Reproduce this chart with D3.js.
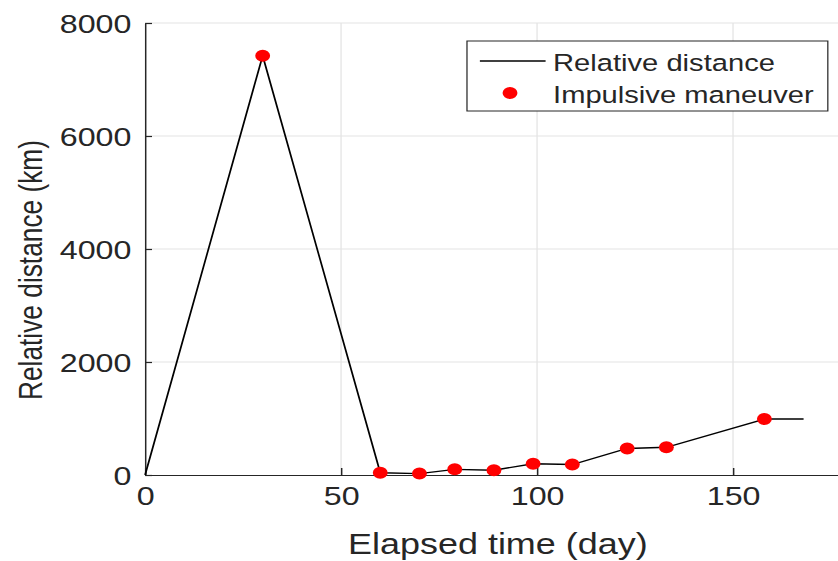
<!DOCTYPE html>
<html>
<head>
<meta charset="utf-8">
<script src="https://cdn.jsdelivr.net/npm/d3@7"></script>
<style>
  html, body { margin: 0; padding: 0; background: #fff; }
  svg { display: block; }
  text { font-family: "Liberation Sans", Arial, Helvetica, sans-serif; fill: #262626; }
</style>
</head>
<body>
<svg id="chart"></svg>
<script>
// ---- data ----
const lineDays = [0, 30, 60, 70, 79, 89, 99, 109, 123, 133, 158, 168];
const lineDist = [0, 7420, 40, 25, 100, 85, 200, 185, 470, 490, 990, 990];
const maneuverDays = [30, 60, 70, 79, 89, 99, 109, 123, 133, 158];
const maneuverDist = [7420, 40, 25, 100, 85, 200, 185, 470, 490, 990];
const xTicks = [0, 50, 100, 150];
const yTicks = [0, 2000, 4000, 6000, 8000];
const xLabel = "Elapsed time (day)";
const yLabel = "Relative distance (km)";
const legendLabels = ["Relative distance", "Impulsive maneuver"];

// ---- layout: plot drawn in internal coords, stretched horizontally by SX ----
const W = 838, H = 561, SX = 1.24;
const m = { left: 117, top: 23, bottom: 86 };
const plotH = H - m.top - m.bottom;

const root = d3.select("#chart").attr("width", W).attr("height", H);
const svg = root.append("g").attr("transform", `scale(${SX},1)`);

const x = d3.scaleLinear().domain([0, 180]).range([m.left, m.left + 3.161 * 180]);
const y = d3.scaleLinear().domain([0, 8000]).range([m.top + plotH, m.top]);

const axisColor = "#262626";
const gridColor = "#e3e3e3";

// grid
const g = svg.append("g");
g.selectAll(".gx").data(xTicks.filter(d => d > 0)).join("line")
  .attr("x1", d => x(d)).attr("x2", d => x(d))
  .attr("y1", y(0)).attr("y2", y(8000))
  .attr("stroke", gridColor).attr("stroke-width", 1);
g.selectAll(".gy").data(yTicks.filter(d => d > 0)).join("line")
  .attr("x1", x(0)).attr("x2", x(180))
  .attr("y1", d => y(d)).attr("y2", d => y(d))
  .attr("stroke", gridColor).attr("stroke-width", 1);

// axes
const xAxis = d3.axisBottom(x).tickValues(xTicks).tickFormat(d3.format("d")).tickSizeInner(-7).tickSizeOuter(0).tickPadding(12);
const yAxis = d3.axisLeft(y).tickValues(yTicks).tickFormat(d3.format("d")).tickSizeInner(-5.6).tickSizeOuter(0).tickPadding(11);

const gx = svg.append("g").attr("transform", `translate(0,${y(0)})`).call(xAxis);
const gy = svg.append("g").attr("transform", `translate(${x(0)},0)`).call(yAxis);
[gx, gy].forEach(a => {
  a.select(".domain").attr("stroke", axisColor).attr("stroke-width", 1.2);
  a.selectAll(".tick line").attr("stroke", axisColor).attr("stroke-width", 1.2);
  a.selectAll(".tick text").attr("fill", axisColor)
    .style("font-family", '"Liberation Sans", Arial, sans-serif')
    .style("font-size", "26px");
});
gx.selectAll(".tick text").attr("dy", "0.71em");
gy.selectAll(".tick text").attr("dy", "0.36em");

// line
const pts = lineDays.map((d, i) => [d, lineDist[i]]);
svg.append("path")
  .datum(pts)
  .attr("fill", "none")
  .attr("stroke", "#000")
  .attr("stroke-width", 1.4)
  .attr("d", d3.line().x(d => x(d[0])).y(d => y(d[1])));

// markers
svg.selectAll(".mk").data(maneuverDays.map((d, i) => [d, maneuverDist[i]])).join("circle")
  .attr("cx", d => x(d[0])).attr("cy", d => y(d[1]))
  .attr("r", 6).attr("fill", "#ff0000");

// x axis label
svg.append("text")
  .attr("x", x(90)).attr("y", 554)
  .attr("text-anchor", "middle")
  .style("font-size", "29px")
  .text(xLabel);

// y axis label (uniform coords; glyphs condensed along the text to mimic stretch)
root.append("text")
  .attr("transform", `translate(42,270) rotate(-90)`)
  .attr("text-anchor", "middle")
  .attr("textLength", 260)
  .attr("lengthAdjust", "spacingAndGlyphs")
  .style("font-size", "33.5px")
  .text(yLabel);

// legend
const lg = svg.append("g");
lg.append("rect")
  .attr("x", 376.6).attr("y", 41).attr("width", 291).attr("height", 70)
  .attr("fill", "#fff").attr("stroke", axisColor).attr("stroke-width", 1);
lg.append("line")
  .attr("x1", 387).attr("x2", 440).attr("y1", 61).attr("y2", 61)
  .attr("stroke", "#000").attr("stroke-width", 1.4);
lg.append("circle").attr("cx", 411.3).attr("cy", 93).attr("r", 6).attr("fill", "#ff0000");
lg.append("text").attr("x", 446).attr("y", 71).style("font-size", "23.5px").text(legendLabels[0]);
lg.append("text").attr("x", 446).attr("y", 103).style("font-size", "23.5px").text(legendLabels[1]);
</script>
</body>
</html>
